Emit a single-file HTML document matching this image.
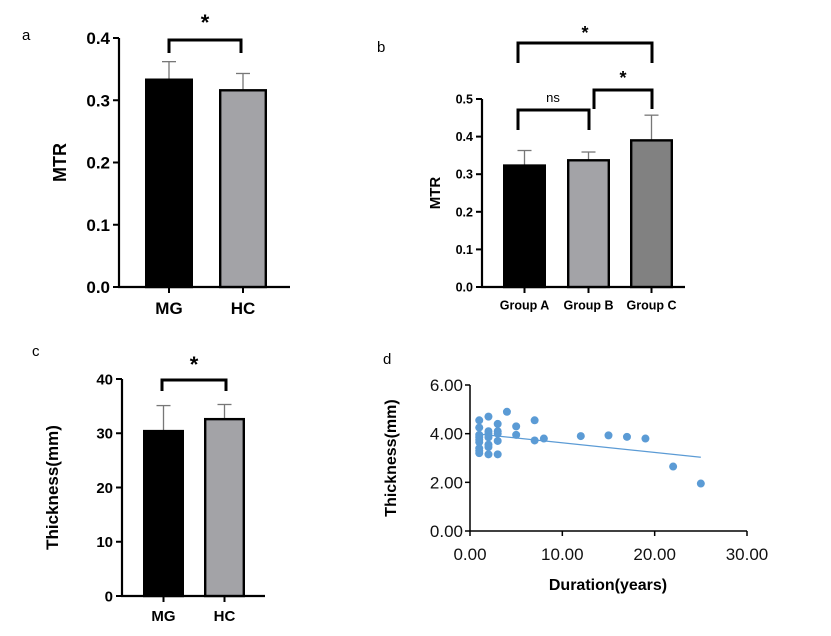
<!DOCTYPE html>
<html><head><meta charset="utf-8"><style>
html,body{margin:0;padding:0;background:#fff;}
svg{display:block;font-family:"Liberation Sans",sans-serif;}
</style></head><body>
<svg id="s" width="831" height="636" viewBox="0 0 831 636">
<text x="22" y="40" font-size="15">a</text>
<text x="377" y="52" font-size="15">b</text>
<text x="32" y="356" font-size="15">c</text>
<text x="383" y="364" font-size="15">d</text>
</svg>
<script>
const NS="http://www.w3.org/2000/svg";
const svg=document.getElementById('s');
// Panel a data
const aCats=["MG","HC"], aVals=[0.333,0.316], aErr=[0.362,0.343], aTicks=[0,0.1,0.2,0.3,0.4];
// Panel b data
const bCats=["Group A","Group B","Group C"], bVals=[0.323,0.337,0.39], bErr=[0.363,0.359,0.457], bTicks=[0,0.1,0.2,0.3,0.4,0.5];
// Panel c data
const cCats=["MG","HC"], cVals=[30.4,32.6], cErr=[35.1,35.3], cTicks=[0,10,20,30,40];
// Panel d data
const dX=[1,1,1,1,1,1,1,1,1,2,2,2,2,2,2,2,3,3,3,3,3,4,5,5,7,7,8,12,15,17,19,22,25];
const dY=[4.55,4.25,3.95,3.85,3.75,3.65,3.4,3.3,3.2,4.7,4.1,4.0,3.85,3.55,3.45,3.15,4.4,4.1,4.0,3.7,3.15,4.9,4.3,3.95,4.55,3.72,3.8,3.9,3.93,3.87,3.8,2.65,1.95];
const dFitX=[1,25], dFitY=[3.98,3.03];
const dXTicks=[0,10,20,30], dYTicks=[0,2,4,6];

function el(tag,attrs,name,inter,parent){const e=document.createElementNS(NS,tag);for(const k in attrs)e.setAttribute(k,attrs[k]);


(parent||svg).appendChild(e);return e;}
function txt(x,y,s,size,name,opt){const t=el('text',Object.assign({x:x,y:y,'font-size':size},opt||{}),name,'false');t.textContent=s;return t;}

function barChart(o){
  const ys=v=>o.y0-(v-o.min)/(o.max-o.min)*(o.y0-o.yTop);
  const g=el('g',{},o.id,'false');
  el('line',{x1:o.ax,y1:o.yTop,x2:o.ax,y2:o.y0+1,stroke:'#000','stroke-width':2.2},o.id+'-y-axis','false',g);
  el('line',{x1:o.ax-1,y1:o.y0,x2:o.xEnd,y2:o.y0,stroke:'#000','stroke-width':2.2},o.id+'-x-axis','false',g);
  o.ticks.forEach((t,i)=>{const y=ys(t);
    el('line',{x1:o.ax-6,y1:y,x2:o.ax,y2:y,stroke:'#000','stroke-width':2},o.id+'-y-tick','false',g);
    txt(o.ax-9,y+o.fs*0.36,o.fmt(t),o.fs,o.id+'-y-tick-label',{'text-anchor':'end','font-weight':'bold'});});
  o.cats.forEach((c,i)=>{const x0=o.bx[i],w=o.bw,cx=x0+w/2;
    const top=ys(o.vals[i]), et=ys(o.err[i]);
    el('line',{x1:cx,y1:et,x2:cx,y2:top,stroke:'#777','stroke-width':1.3},o.id+'-error-bar','false',g);
    el('line',{x1:cx-7,y1:et,x2:cx+7,y2:et,stroke:'#777','stroke-width':1.3},o.id+'-error-cap','false',g);
    el('rect',{x:x0+1.2,y:top,width:w-2.4,height:o.y0-top,fill:o.fills[i],stroke:'#000','stroke-width':2.4},o.id+'-bar-'+c.toLowerCase().replace(/ /g,'-'),'false',g);
    el('line',{x1:cx,y1:o.y0,x2:cx,y2:o.y0+6,stroke:'#000','stroke-width':2},o.id+'-x-tick','false',g);
    txt(cx,o.y0+o.fs+10,c,o.fs,o.id+'-x-tick-label',{'text-anchor':'middle','font-weight':'bold'});
  });
  const yt=txt(0,0,o.ylab,o.yfs,o.id+'-y-axis-title',{'text-anchor':'middle','font-weight':'bold'});
  yt.setAttribute('transform','translate('+o.ylx+','+((o.y0+o.yTop)/2)+') rotate(-90)');
}
function bracket(x1,x2,y,d1,d2,name){el('path',{d:`M${x1},${y+d1}V${y}H${x2}V${y+d2}`,fill:'none',stroke:'#000','stroke-width':3},name,'false');}

barChart({id:'panel-a',ax:119,y0:287,yTop:38,xEnd:290,min:0,max:0.4,ticks:aTicks,fmt:v=>v.toFixed(1),fs:17,
 cats:aCats,vals:aVals,err:aErr,bx:[145,219],bw:48,fills:['#000','#a3a3a7'],ylab:'MTR',yfs:18,ylx:66});
bracket(169,241,40,13,13,'bracket-a');txt(205,30,'*',22,'sig-star-a',{'text-anchor':'middle','font-weight':'bold'});

barChart({id:'panel-b',ax:482,y0:287,yTop:99,xEnd:685,min:0,max:0.5,ticks:bTicks,fmt:v=>v.toFixed(1),fs:12.5,
 cats:bCats,vals:bVals,err:bErr,bx:[503,567,630],bw:43,fills:['#000','#a3a3a7','#818181'],ylab:'MTR',yfs:15,ylx:440});
bracket(518,652,43,20,20,'bracket-a-c');txt(585,39,'*',18,'sig-star-a-c',{'text-anchor':'middle','font-weight':'bold'});
bracket(518,589,110,20,20,'bracket-a-b');txt(553,102,'ns',13,'sig-ns-a-b',{'text-anchor':'middle'});
bracket(594,652,90,19,19,'bracket-b-c');txt(623,84,'*',18,'sig-star-b-c',{'text-anchor':'middle','font-weight':'bold'});

barChart({id:'panel-c',ax:122,y0:596,yTop:379,xEnd:265,min:0,max:40,ticks:cTicks,fmt:v=>String(v),fs:15,
 cats:cCats,vals:cVals,err:cErr,bx:[143,204],bw:41,fills:['#000','#a3a3a7'],ylab:'Thickness(mm)',yfs:17,ylx:58});
bracket(162,226,380,11,11,'bracket-c');txt(194,372,'*',22,'sig-star-c',{'text-anchor':'middle','font-weight':'bold'});

// Panel d scatter
(function(){
 const x0=470,x1=747,y0=531,y1=385,xs=v=>x0+v/30*(x1-x0),ys=v=>y0-v/6*(y0-y1);
 const g=el('g',{},'panel-d','false');
 el('line',{x1:x0,y1:y1,x2:x0,y2:y0,stroke:'#000','stroke-width':1.5},'panel-d-y-axis','false',g);
 el('line',{x1:x0,y1:y0,x2:x1,y2:y0,stroke:'#000','stroke-width':1.5},'panel-d-x-axis','false',g);
 dYTicks.forEach(t=>{const y=ys(t);el('line',{x1:x0-5,y1:y,x2:x0,y2:y,stroke:'#000','stroke-width':1.5},'panel-d-y-tick','false',g);
  txt(x0-7,y+6,t.toFixed(2),17,'panel-d-y-tick-label',{'text-anchor':'end',fill:'#111'});});
 dXTicks.forEach(t=>{const x=xs(t);el('line',{x1:x,y1:y0,x2:x,y2:y0+5,stroke:'#000','stroke-width':1.5},'panel-d-x-tick','false',g);
  txt(x,y0+29,t.toFixed(2),17,'panel-d-x-tick-label',{'text-anchor':'middle',fill:'#111'});});
 el('line',{x1:xs(dFitX[0]),y1:ys(dFitY[0]),x2:xs(dFitX[1]),y2:ys(dFitY[1]),stroke:'#5b9bd5','stroke-width':1.3},'trend-line','false',g);
 dX.forEach((x,i)=>{el('circle',{cx:xs(x),cy:ys(dY[i]),r:4,fill:'#5b9bd5'},'data-point','false',g);});
 txt(608,590,'Duration(years)',16,'panel-d-x-axis-title',{'text-anchor':'middle','font-weight':'bold'});
 const yt=txt(0,0,'Thickness(mm)',16,'panel-d-y-axis-title',{'text-anchor':'middle','font-weight':'bold'});
 yt.setAttribute('transform','translate(396,458) rotate(-90)');
})();
</script>
</body></html>
